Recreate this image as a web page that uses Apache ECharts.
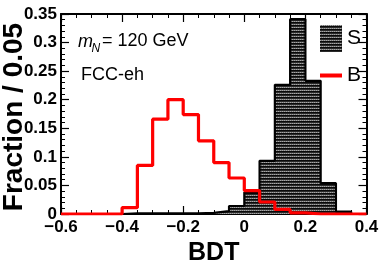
<!DOCTYPE html>
<html><head><meta charset="utf-8">
<script src="https://cdn.jsdelivr.net/npm/echarts@6/dist/echarts.min.js"></script>
<style>html,body{margin:0;padding:0;background:#fff}#c{width:382px;height:273px}</style>
</head><body><div id="c"></div>
<script>
// bin lower edges (width 0.05)
const binStart = [-0.6,-0.55,-0.5,-0.45,-0.4,-0.35,-0.3,-0.25,-0.2,-0.15,-0.1,-0.05,0,0.05,0.1,0.15,0.2,0.25,0.3,0.35];
const lastEdge = 0.4;
// S (signal) fractions per bin
const sigFrac = [0,0,0,0,0.001,0.001,0.001,0.001,0.001,0.002,0.005,0.014,0.038,0.093,0.226,0.341,0.233,0.054,0.004,0];
// B (background) fractions per bin
const bkgFrac = [0,0,0,0,0.011,0.085,0.166,0.200,0.174,0.128,0.090,0.063,0.041,0.021,0.008,0.002,0,0,0,0];
const seriesNames = ['S','B'];

function stepData(v){
  const d = binStart.map((x,i)=>[x, v[i]]);
  d.push([lastEdge, v[v.length-1]]);
  return d;
}
// hatched fill pattern
const pc = document.createElement('canvas'); pc.width = 4; pc.height = 3;
const g = pc.getContext('2d');
g.fillStyle = '#0a0a0a'; g.fillRect(0,0,4,3);
g.fillStyle = '#2a2a2a'; g.fillRect(0,2,4,1);
g.fillStyle = '#a8a8a8'; g.fillRect(0,0,1,1); g.fillRect(2,0,1,1);
g.fillStyle = '#707070'; g.fillRect(1,0,1,1); g.fillRect(3,0,1,1);
const hatch = {image: pc, repeat: 'repeat'};

const NARROW = '"Liberation Sans Narrow", "Liberation Sans", Arial, sans-serif';
const WIDE = '"Liberation Sans", Arial, sans-serif';
const fmtX = v => { const s = String(+(+v).toFixed(2)); return s.replace('-', '\u2212'); };
const fmtY = v => String(+(+v).toFixed(2));

const axisLine = {show: true, onZero: false, lineStyle: {color: '#000', width: 2}};
const majorTick = {show: true, inside: true, length: 8, lineStyle: {color: '#000', width: 1.2}};
const tickLbl = {color: '#000', fontFamily: NARROW, fontWeight: 'bold', fontSize: 17};

const chart = echarts.init(document.getElementById('c'), null, {renderer: 'canvas'});
chart.setOption({
  animation: false,
  backgroundColor: '#fff',
  grid: {left: 61, right: 15.5, top: 14, bottom: 59, containLabel: false, outerBoundsMode: 'none'},
  xAxis: [
    {type: 'value', position: 'bottom', min: -0.6, max: 0.4, interval: 0.2,
     axisLine, axisTick: majorTick,
     minorTick: {show: true, splitNumber: 4, length: 4, lineStyle: {color: '#000', width: 1}},
     splitLine: {show: false},
     axisLabel: Object.assign({margin: 5, formatter: fmtX}, tickLbl),
     name: 'BDT', nameLocation: 'middle', nameGap: 24,
     nameTextStyle: {color: '#000', fontFamily: NARROW, fontWeight: 'bold', fontSize: 25}},
    {type: 'value', position: 'top', min: -0.6, max: 0.4, interval: 0.2,
     axisLine, axisTick: majorTick,
     minorTick: {show: true, splitNumber: 4, length: 4, lineStyle: {color: '#000', width: 1}},
     splitLine: {show: false}, axisLabel: {show: false}}
  ],
  yAxis: [
    {type: 'value', position: 'left', min: 0, max: 0.35, interval: 0.05,
     axisLine, axisTick: majorTick,
     minorTick: {show: true, splitNumber: 5, length: 4, lineStyle: {color: '#000', width: 1}},
     splitLine: {show: false},
     axisLabel: Object.assign({margin: 4, formatter: fmtY}, tickLbl),
     name: 'Fraction / 0.05', nameLocation: 'middle', nameGap: 33, nameRotate: 90, nameMoveOverlap: false,
     nameTextStyle: {color: '#000', fontFamily: WIDE, fontWeight: 'bold', fontSize: 28, padding: [0,6,0,0]}},
    {type: 'value', position: 'right', min: 0, max: 0.35, interval: 0.05,
     axisLine, axisTick: majorTick,
     minorTick: {show: true, splitNumber: 5, length: 4, lineStyle: {color: '#000', width: 1}},
     splitLine: {show: false}, axisLabel: {show: false}}
  ],
  legend: [
    {data: [{name: seriesNames[0], icon: 'rect', itemStyle: {color: hatch, borderWidth: 0}}],
     left: 320, top: 25, itemWidth: 22, itemHeight: 27, padding: 0, selectedMode: false,
     textStyle: {color: '#000', fontFamily: NARROW, fontSize: 21}},
    {data: [{name: seriesNames[1], icon: 'rect', itemStyle: {color: '#ff0000', borderWidth: 0}}],
     left: 320, top: 65, itemWidth: 22, itemHeight: 4, padding: 0, selectedMode: false,
     textStyle: {color: '#000', fontFamily: NARROW, fontSize: 21}}
  ],
  graphic: [
    {type: 'text', left: 78, top: 33, style: {text: 'm', fill: '#000', font: 'italic 18px ' + NARROW}},
    {type: 'text', left: 91.5, top: 43, style: {text: 'N', fill: '#000', font: 'italic 12px ' + NARROW}},
    {type: 'text', left: 102, top: 32, style: {text: '= 120 GeV', fill: '#000', font: '18px ' + NARROW}},
    {type: 'text', left: 81, top: 66, style: {text: 'FCC-eh', fill: '#000', font: '18px ' + NARROW}}
  ],
  series: [
    {name: seriesNames[0], type: 'line', step: 'end', symbol: 'none', xAxisIndex: 0, yAxisIndex: 0,
     data: stepData(sigFrac), z: 2,
     lineStyle: {color: '#000', width: 2.2}, itemStyle: {color: '#000'},
     areaStyle: {color: hatch, opacity: 1}},
    {name: seriesNames[1], type: 'line', step: 'end', symbol: 'none', xAxisIndex: 0, yAxisIndex: 0,
     data: stepData(bkgFrac), z: 3,
     lineStyle: {color: '#ff0000', width: 3.2}, itemStyle: {color: '#ff0000'}}
  ]
});
</script></body></html>
